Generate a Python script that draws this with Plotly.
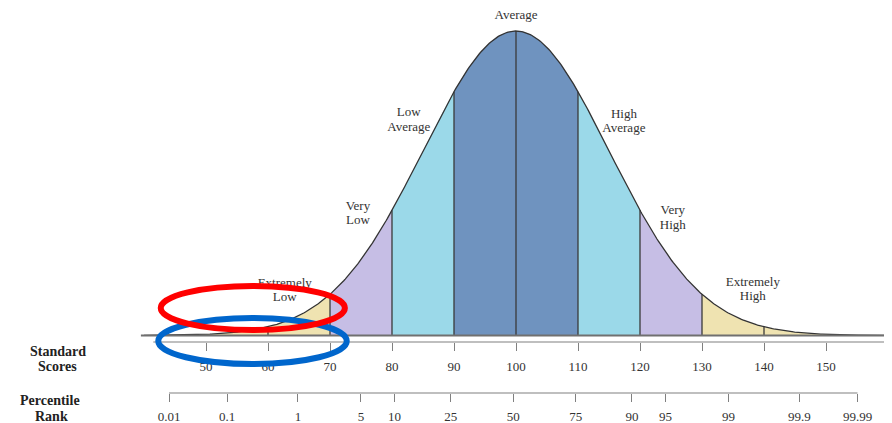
import numpy as np
import plotly.graph_objects as go
from statistics import NormalDist

# ---- data ----
MEAN = 100
SD = 15
band_lo = [40, 70, 80, 90, 110, 120, 130]
band_hi = [70, 80, 90, 110, 120, 130, 160]
band_colors = ["#EFE3B1", "#C6BEE5", "#9BD9E9", "#6F93BF", "#9BD9E9", "#C6BEE5", "#EFE3B1"]
label_line1 = ["Extremely", "Very", "Low", "Average", "High", "Very", "Extremely"]
label_line2 = ["Low", "Low", "Average", "", "Average", "High", "High"]
label_x = [62.7, 74.5, 82.7, 100, 117.4, 125.3, 138.2]
dividers = [60, 70, 80, 90, 100, 110, 120, 130, 140]
score_ticks = [50, 60, 70, 80, 90, 100, 110, 120, 130, 140, 150]
percentiles = [0.01, 0.1, 1, 5, 10, 25, 50, 75, 90, 95, 99, 99.9, 99.99]
percentile_labels = ["0.01", "0.1", "1", "5", "10", "25", "50", "75", "90", "95", "99", "99.9", "99.99"]

# label vertical placement (page pixels of the two text lines)
label_py1 = [284, 207, 113, 16, 115, 211, 283]
label_py2 = [298, 221, 128, None, 129, 226, 297]

# ---- page geometry (page body has an 8px margin) ----
OFF = 8
W, H = 892 - OFF, 423 - OFF
BASE_PY = 335.5       # page y of baseline
UNIT_PY = 304.5       # page px for curve peak height
X100_PX = 516         # page x of score 100
PX_PER = 6.2          # page px per score unit


def py_to_y(py):
    return (BASE_PY - py) / UNIT_PY


dist = NormalDist(MEAN, SD)
peak = dist.pdf(MEAN)


def h(x):
    return np.array([dist.pdf(v) / peak for v in np.atleast_1d(x)])


SERIF = "Liberation Serif, Times New Roman, serif"
fig = go.Figure()

# bands
for lo, hi, col in zip(band_lo, band_hi, band_colors):
    xs = np.linspace(lo, hi, 120)
    ys = h(xs)
    px = np.concatenate([[lo], xs, [hi, lo]])
    py = np.concatenate([[0], ys, [0, 0]])
    fig.add_trace(go.Scatter(x=px, y=py, fill="toself", fillcolor=col,
                             mode="none", hoverinfo="skip"))

# dividers
for d in dividers:
    fig.add_trace(go.Scatter(x=[d, d], y=[0, h(d)[0]], mode="lines",
                             line=dict(color="#3a3a3a", width=1.3), hoverinfo="skip"))

# curve
xc = np.linspace(40, 160, 600)
fig.add_trace(go.Scatter(x=xc, y=h(xc), mode="lines",
                         line=dict(color="#333333", width=1.3), hoverinfo="skip"))

# baseline and score axis line
fig.add_trace(go.Scatter(x=[39.5, 160.6], y=[0, 0], mode="lines",
                         line=dict(color="#707070", width=2.2), hoverinfo="skip"))
fig.add_trace(go.Scatter(x=[41.5, 160.6], y=[py_to_y(342)] * 2, mode="lines",
                         line=dict(color="#808080", width=1.2), hoverinfo="skip"))

# percentile axis line
pct_pos = [dist.inv_cdf(p / 100) for p in percentiles]
fig.add_trace(go.Scatter(x=[pct_pos[0], pct_pos[-1]], y=[py_to_y(393)] * 2, mode="lines",
                         xaxis="x2", line=dict(color="#808080", width=1.2), hoverinfo="skip"))

# category labels (text traces so the ellipse can sit above them)
fig.add_trace(go.Scatter(x=label_x, y=[py_to_y(v) for v in label_py1], mode="text",
                         text=label_line1, cliponaxis=False,
                         textfont=dict(family=SERIF, size=13, color="#333333"),
                         textposition="middle center", hoverinfo="skip"))
l2x = [x for x, t in zip(label_x, label_line2) if t]
l2y = [py_to_y(v) for v, t in zip(label_py2, label_line2) if t]
fig.add_trace(go.Scatter(x=l2x, y=l2y, mode="text", cliponaxis=False,
                         text=[t for t in label_line2 if t],
                         textfont=dict(family=SERIF, size=13, color="#333333"),
                         textposition="middle center", hoverinfo="skip"))

# ellipses
fig.add_shape(type="circle", xref="x", yref="y", x0=42.3, x1=72.7,
              y0=py_to_y(364), y1=py_to_y(318),
              line=dict(color="#0066CC", width=6), layer="above")
fig.add_shape(type="circle", xref="x", yref="y", x0=42.7, x1=72.4,
              y0=py_to_y(330), y1=py_to_y(286),
              line=dict(color="#FF0000", width=6), layer="above")

# side labels
for txt, pxx, pyy in [("Standard", 58, 351), ("Scores", 57, 366),
                      ("Percentile", 50, 400), ("Rank", 51, 416)]:
    fig.add_annotation(xref="paper", yref="paper", x=(pxx - OFF) / W, y=(423 - pyy) / H,
                       xanchor="center", yanchor="middle",
                       text="<b>" + txt + "</b>", showarrow=False,
                       font=dict(family=SERIF, size=14, color="#222222"))

x_lo = 100 - (X100_PX - OFF) / PX_PER
x_hi = 100 + (892 - X100_PX) / PX_PER
# percentile scale: slightly different calibration
B2 = (857.5 - 169) / (pct_pos[-1] - pct_pos[0])
A2 = 169 - pct_pos[0] * B2
x2_lo = (OFF - A2) / B2
x2_hi = (892 - A2) / B2

fig.update_layout(
    width=W, height=H,
    margin=dict(l=0, r=0, t=0, b=0),
    paper_bgcolor="white", plot_bgcolor="white",
    showlegend=False,
    xaxis=dict(range=[x_lo, x_hi], anchor="free", position=(423 - 342) / H,
               tickmode="array", tickvals=score_ticks, ticktext=[str(t) for t in score_ticks],
               ticks="outside", ticklen=8, tickcolor="#808080", tickwidth=1,
               showline=False, showgrid=False, zeroline=False,
               tickfont=dict(family=SERIF, size=13, color="#333333"),
               ticklabelstandoff=4, automargin=False),
    xaxis2=dict(range=[x2_lo, x2_hi], overlaying="x", anchor="free",
                position=(423 - 393) / H,
                tickmode="array", tickvals=pct_pos, ticktext=percentile_labels,
                ticks="outside", ticklen=8, tickcolor="#808080", tickwidth=1,
                showline=False, showgrid=False, zeroline=False,
                tickfont=dict(family=SERIF, size=13, color="#333333"),
                ticklabelstandoff=3, automargin=False),
    yaxis=dict(range=[py_to_y(423), py_to_y(OFF)], visible=False,
               showgrid=False, zeroline=False),
)

fig.write_html("out.html")
